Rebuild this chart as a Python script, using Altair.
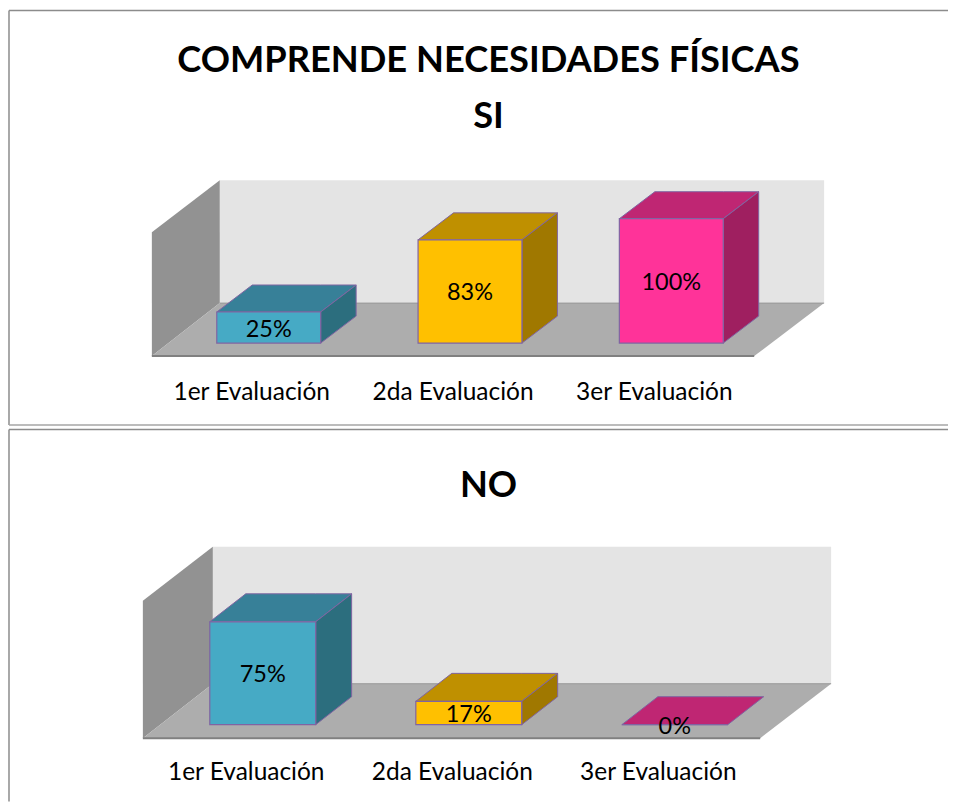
import altair as alt
import pandas as pd

categories = ["1er Evaluación", "2da Evaluación", "3er Evaluación"]
si_values = [25, 83, 100]
no_values = [75, 17, 0]
front_colors = ["#46AAC5", "#FFC000", "#FF3399"]
top_colors = ["#378098", "#BF9000", "#BF2673"]
side_colors = ["#2C6E7E", "#A07800", "#9F1F60"]
title_si = ["COMPRENDE NECESIDADES FÍSICAS", "SI"]
title_no = ["NO"]

FONT = "Lato"
EDGE = "#8064A2"
W = 941


def panel(values, titles, title_ys, g):
    sx = lambda px: (px - g["c0"]) / g["step"]
    sy = lambda py: (g["base"] - py) / g["k"]
    xs = alt.Scale(domain=[sx(8), sx(8 + W)], nice=False, zero=False)
    ys = alt.Scale(domain=[sy(g["top"] + g["h"]), sy(g["top"])], nice=False, zero=False)
    X = alt.X("x:Q", scale=xs, axis=None)
    Y = alt.Y("y:Q", scale=ys, axis=None)
    px = lambda v: alt.value(v - 8)
    py = lambda v: alt.value(v - g["top"])

    bw = g["bw"] / g["step"] / 2
    dx = g["dx"] / g["step"]
    dy = g["dy"] / g["k"]

    bars, tops, sides, labels, ticks = [], [], [], [], []
    for i, (c, v) in enumerate(zip(categories, values)):
        l, r = i - bw, i + bw
        bars.append(dict(x=l, x2=r, y=v, y2=0, c=front_colors[i]))
        for xv, a, b in [(l, v, v), (l + dx, v + dy, v), (r, v + dy, v), (r + dx, v + dy, v + dy)]:
            tops.append(dict(x=xv, y=a, y2=b, c=top_colors[i], k=c))
        if v > 0:
            sides.append(dict(x=r, y=v, y2=0, c=side_colors[i], k=c))
            sides.append(dict(x=r + dx, y=v + dy, y2=dy, c=side_colors[i], k=c))
        labels.append(dict(x=i, y=v / 2, t=f"{v}%"))
        ticks.append(dict(x=i + g["tick"] / g["step"], t=c))

    fl, bk = g["floor_front"], g["floor_back"]
    wall = pd.DataFrame([dict(x=sx(g["wl"]), x2=sx(g["wr"]), y=sy(g["wt"]), y2=sy(bk))])
    side_wall = pd.DataFrame([
        dict(x=sx(g["fl"]), y=sy(g["wt"] + g["wd"]), y2=sy(fl)),
        dict(x=sx(g["wl"]), y=sy(g["wt"]), y2=sy(bk)),
    ])
    floor = pd.DataFrame([
        dict(x=sx(g["fl"]), y=sy(fl), y2=sy(fl)),
        dict(x=sx(g["wl"]), y=sy(bk), y2=sy(fl)),
        dict(x=sx(g["fr"]), y=sy(bk), y2=sy(fl)),
        dict(x=sx(g["wr"]), y=sy(bk), y2=sy(bk)),
    ])
    floor_line = pd.DataFrame([dict(x=sx(g["fl"]), x2=sx(g["fr"]), y=sy(fl))])
    back_line = pd.DataFrame([dict(x=sx(g["wl"]), x2=sx(g["wr"]), y=sy(bk))])

    C = alt.Color("c:N", scale=None)
    layers = [
        alt.Chart(wall).mark_rect(color="#E4E4E4").encode(x=X, x2="x2:Q", y=Y, y2="y2:Q"),
        alt.Chart(side_wall).mark_area(color="#929292").encode(x=X, y=Y, y2="y2:Q"),
        alt.Chart(floor).mark_area(color="#ADADAD").encode(x=X, y=Y, y2="y2:Q"),
        alt.Chart(back_line).mark_rule(color="#999999", strokeWidth=1).encode(x=X, x2="x2:Q", y=Y),
        alt.Chart(floor_line).mark_rule(color="#808080", strokeWidth=2).encode(x=X, x2="x2:Q", y=Y),
        alt.Chart(pd.DataFrame(tops)).mark_area(stroke=EDGE, strokeWidth=1).encode(
            x=X, y=Y, y2="y2:Q", color=C, detail="k:N"),
        alt.Chart(pd.DataFrame(sides)).mark_area(stroke=EDGE, strokeWidth=1).encode(
            x=X, y=Y, y2="y2:Q", color=C, detail="k:N"),
        alt.Chart(pd.DataFrame(bars)).mark_rect(stroke=EDGE, strokeWidth=1.2).encode(
            x=X, x2="x2:Q", y=Y, y2="y2:Q", color=C),
        alt.Chart(pd.DataFrame(labels)).mark_text(font=FONT, fontSize=g["lfs"], color="#000000",
                                                  baseline="middle", align="center", dy=2).encode(
            x=X, y=Y, text="t:N"),
        alt.Chart(pd.DataFrame(ticks)).mark_text(font=FONT, fontSize=g["fs"], color="#000000",
                                                 baseline="middle", align="center", dy=2).encode(
            x=X, y=py(g["tick_y"]), text="t:N"),
    ]
    for t, ty in zip(titles, title_ys):
        layers.append(
            alt.Chart(pd.DataFrame({"t": [t]})).mark_text(
                font=FONT, fontSize=g["tfs"], fontWeight="bold", color="#000000",
                baseline="middle", align="center", dy=2).encode(
                x=px(489), y=py(ty), text="t:N"))
    fr = g["frame"]
    frame_df = pd.DataFrame({"f": [1]})
    layers.append(alt.Chart(frame_df).mark_rule(color="#8C8C8C", strokeWidth=1.5).encode(
        x=px(9), y=py(fr[0]), y2=py(fr[1])))
    layers.append(alt.Chart(frame_df).mark_rule(color="#8C8C8C", strokeWidth=1.5).encode(
        x=px(9), x2=px(8 + W), y=py(fr[0])))
    if fr[2]:
        layers.append(alt.Chart(frame_df).mark_rule(color="#A6A6A6", strokeWidth=1.5).encode(
            x=px(9), x2=px(8 + W), y=py(fr[1])))
    return alt.layer(*layers).properties(width=W, height=g["h"])


geo_si = dict(top=8, h=419, base=343, k=1.245, c0=269, step=201.5, bw=104, dx=35.5, dy=27,
              wl=220, wr=825, wt=180, wd=52, fl=152, fr=755, floor_front=356, floor_back=303,
              tick=-17, tick_y=391, fs=24.5, lfs=23.5, tfs=36.3, frame=(10, 425, True))
geo_no = dict(top=427, h=375, base=725, k=1.373, c0=263, step=206.25, bw=106, dx=36, dy=28,
              wl=213, wr=832, wt=547, wd=54, fl=143, fr=761, floor_front=738.5, floor_back=684,
              tick=-16.5, tick_y=771, fs=24.5, lfs=23.5, tfs=36.3, frame=(429.5, 802, False))

chart = alt.vconcat(
    panel(si_values, title_si, [59, 115], geo_si),
    panel(no_values, title_no, [484], geo_no),
    spacing=0,
).properties(padding=0, background="#FFFFFF").configure_view(stroke=None)

chart.save("out.html", embed_options={"renderer": "svg", "actions": False})
